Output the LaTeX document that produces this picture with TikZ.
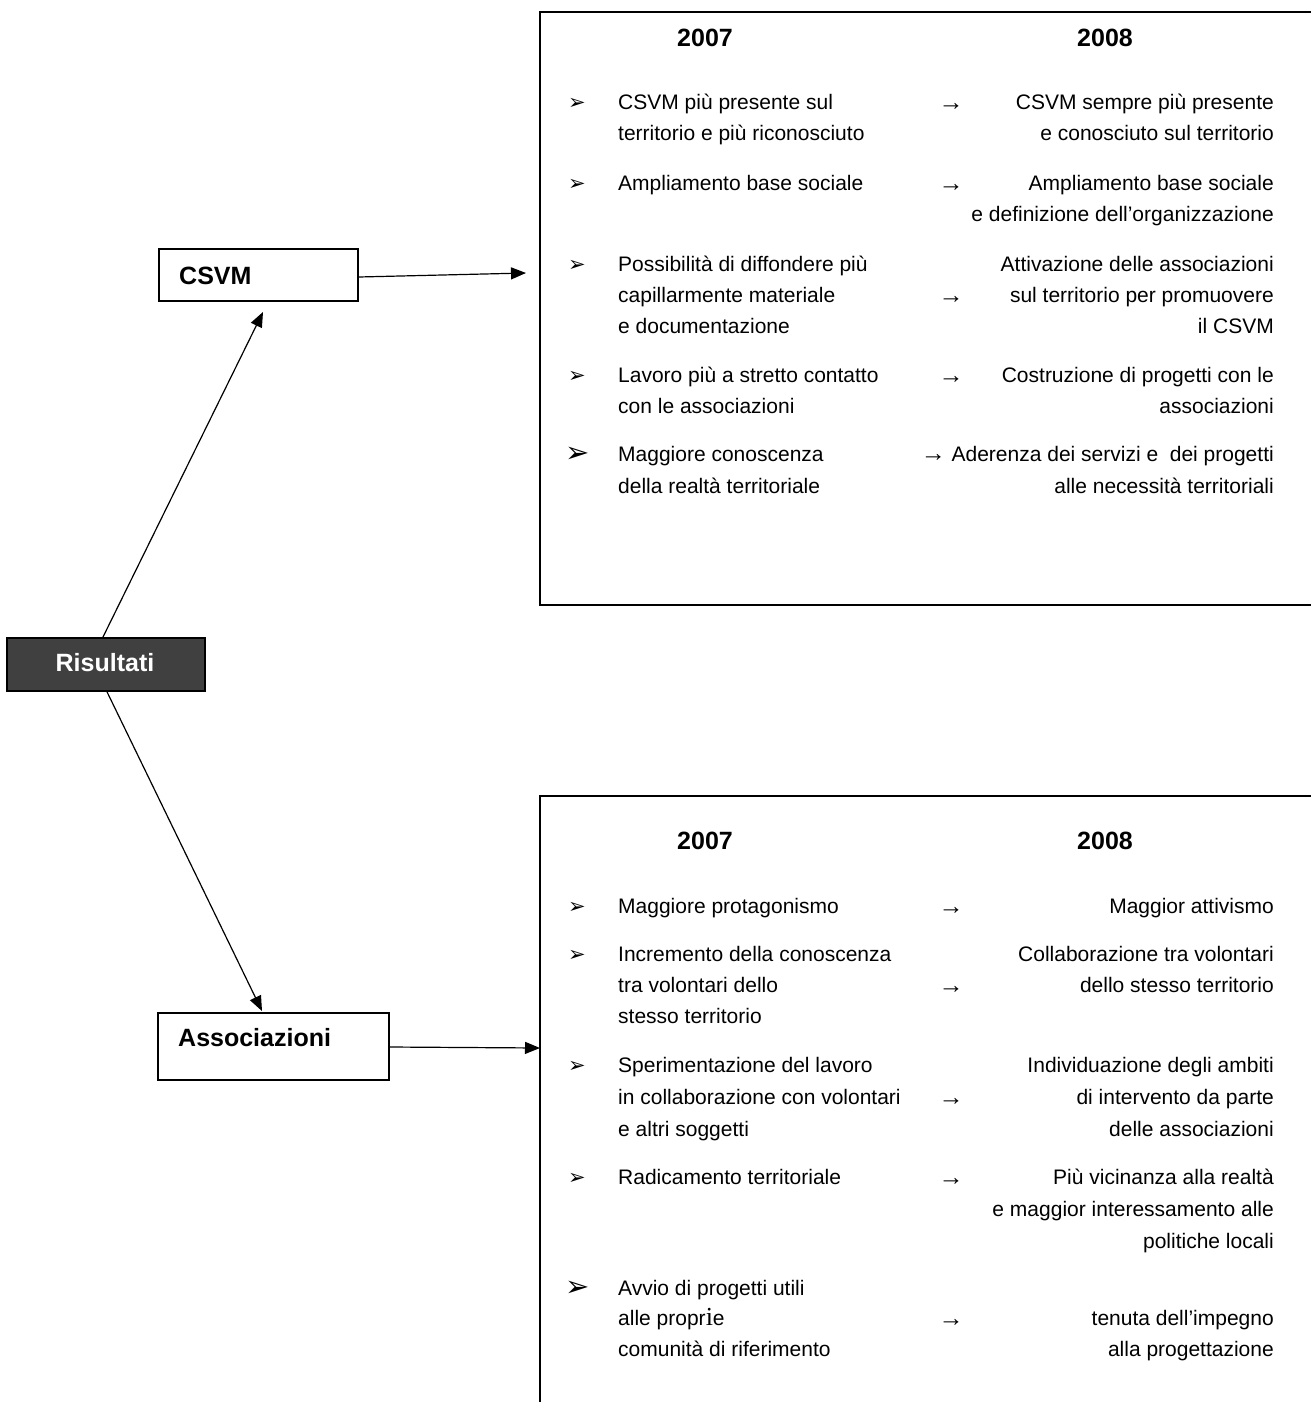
\documentclass[tikz,border=0pt]{standalone}
\usepackage{fontspec}
\setmainfont{Liberation Sans}
\newfontfamily\dejavu{DejaVu Sans}
\newfontfamily\serifi{Liberation Serif}
\usetikzlibrary{arrows.meta}
\newcommand{\bodyfont}{\fontsize{21}{25}\selectfont}
\newcommand{\labfont}{\fontsize{25}{30}\selectfont\bfseries}
\newcommand{\arrfont}{\fontsize{25}{30}\selectfont}
\tikzset{
  lt/.style={anchor=base west, inner sep=0pt, font=\bodyfont},
  rt/.style={anchor=base east, inner sep=0pt, font=\bodyfont},
  ar/.style={anchor=base, inner sep=0pt, font=\arrfont},
  bul/.style={anchor=base, inner sep=0pt, font=\dejavu\fontsize{21}{25}\selectfont},
  bigbul/.style={anchor=base, inner sep=0pt, font=\dejavu\fontsize{29}{32}\selectfont},
  hdr/.style={anchor=base, inner sep=0pt, font=\labfont},
  lab/.style={draw, line width=1.8pt, anchor=north west, inner sep=0pt},
  conn/.style={line width=1.2pt, -{Triangle[length=15pt,width=12pt]}},
}
\begin{document}
\begin{tikzpicture}[x=1pt,y=-1pt]
\useasboundingbox (0,0) rectangle (1311,1402);
% big boxes
\draw[line width=2pt] (1320,12) -- (540,12) -- (540,605) -- (1320,605);
\draw[line width=2pt] (1320,796) -- (540,796) -- (540,1410);
\coordinate (tbox) at (526,273);
\coordinate (bbox) at (540,1048);
% left boxes
\node[lab, fill={rgb,255:red,64;green,64;blue,64}, minimum width=198pt, minimum height=53pt] (res) at (6,637) {};
\node[font=\labfont, text=white] (restxt) at (105,663) {Risultati};
\node[lab, fill=white, minimum width=199pt, minimum height=52pt] (csvm) at (158,248) {};
\node[font=\labfont, anchor=west, inner sep=0pt] (csvmtxt) at (179,276) {CSVM};
\node[lab, fill=white, minimum width=231pt, minimum height=67pt] (ass) at (157,1012) {};
\node[font=\labfont, anchor=west, inner sep=0pt] (asstxt) at (178,1038) {Associazioni};
% connectors
\coordinate (up) at (263,312);
\coordinate (down) at (262,1011);
\draw[conn] (res.north -| 103,0) -- (up);
\draw[conn] (res.south -| 107,0) -- (down);
\draw[conn] (csvm.east |- 0,277) -- (tbox);
\draw[conn] (ass.east |- 0,1047) -- (bbox);
% top box content
\node[hdr] (h1a) at (705,47) {2007};
\node[hdr] (h1b) at (1105,47) {2008};
\node[bul] (b11) at (577,110) {➢};
\node[lt] (l11) at (618,110) {CSVM più presente sul};
\node[lt] (l12) at (618,141) {territorio e più riconosciuto};
\node[ar] (a11) at (951,111) {→};
\node[rt] (r11) at (1274,110) {CSVM sempre più presente};
\node[rt] (r12) at (1274,141) {e conosciuto sul territorio};
\node[bul] (b12) at (577,190) {➢};
\node[lt] (l21) at (618,190) {Ampliamento base sociale};
\node[ar] (a12) at (951,191) {→};
\node[rt] (r21) at (1274,190) {Ampliamento base sociale};
\node[rt] (r22) at (1274,221) {e definizione dell’organizzazione};
\node[bul] (b13) at (577,271) {➢};
\node[lt] (l31) at (618,271) {Possibilità di diffondere più};
\node[lt] (l32) at (618,302) {capillarmente materiale};
\node[lt] (l33) at (618,333) {e documentazione};
\node[ar] (a13) at (951,303) {→};
\node[rt] (r31) at (1274,271) {Attivazione delle associazioni};
\node[rt] (r32) at (1274,302) {sul territorio per promuovere};
\node[rt] (r33) at (1274,333) {il CSVM};
\node[bul] (b14) at (577,382) {➢};
\node[lt] (l41) at (618,382) {Lavoro più a stretto contatto};
\node[lt] (l42) at (618,413) {con le associazioni};
\node[ar] (a14) at (951,383) {→};
\node[rt] (r41) at (1274,382) {Costruzione di progetti con le};
\node[rt] (r42) at (1274,413) {associazioni};
\node[bigbul] (b15) at (578,462) {➢};
\node[lt] (l51) at (618,461) {Maggiore conoscenza};
\node[lt] (l52) at (618,493) {della realtà territoriale};
\node[rt] (r51) at (1274,461) {{\arrfont →} Aderenza dei servizi e\ \ dei progetti};
\node[rt] (r52) at (1274,493) {alle necessità territoriali};
% bottom box content
\node[hdr] (h2a) at (705,849) {2007};
\node[hdr] (h2b) at (1105,849) {2008};
\node[bul] (b21) at (577,913) {➢};
\node[lt] (m11) at (618,913) {Maggiore protagonismo};
\node[ar] (a21) at (951,914) {→};
\node[rt] (s11) at (1274,913) {Maggior attivismo};
\node[bul] (b22) at (577,961) {➢};
\node[lt] (m21) at (618,961) {Incremento della conoscenza};
\node[lt] (m22) at (618,992) {tra volontari dello};
\node[lt] (m23) at (618,1023) {stesso territorio};
\node[ar] (a22) at (951,993) {→};
\node[rt] (s21) at (1274,961) {Collaborazione tra volontari};
\node[rt] (s22) at (1274,992) {dello stesso territorio};
\node[bul] (b23) at (577,1072) {➢};
\node[lt] (m31) at (618,1072) {Sperimentazione del lavoro};
\node[lt] (m32) at (618,1104) {in collaborazione con volontari};
\node[lt] (m33) at (618,1136) {e altri soggetti};
\node[ar] (a23) at (951,1105) {→};
\node[rt] (s31) at (1274,1072) {Individuazione degli ambiti};
\node[rt] (s32) at (1274,1104) {di intervento da parte};
\node[rt] (s33) at (1274,1136) {delle associazioni};
\node[bul] (b24) at (577,1184) {➢};
\node[lt] (m41) at (618,1184) {Radicamento territoriale};
\node[ar] (a24) at (951,1185) {→};
\node[rt] (s41) at (1274,1184) {Più vicinanza alla realtà};
\node[rt] (s42) at (1274,1216) {e maggior interessamento alle};
\node[rt] (s43) at (1274,1248) {politiche locali};
\node[bigbul] (b25) at (578,1296) {➢};
\node[lt] (m51) at (618,1295) {Avvio di progetti utili};
\node[lt] (m52) at (618,1325) {alle propr{\serifi\fontsize{26}{30}\selectfont i}e};
\node[lt] (m53) at (618,1356) {comunità di riferimento};
\node[ar] (a25) at (951,1326) {→};
\node[rt] (s51) at (1274,1325) {tenuta dell’impegno};
\node[rt] (s52) at (1274,1356) {alla progettazione};
\end{tikzpicture}
\end{document}
